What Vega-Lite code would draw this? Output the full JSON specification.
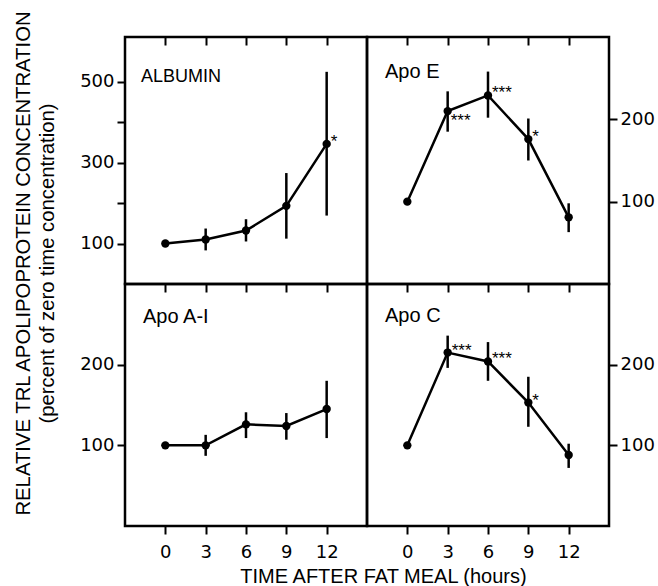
{
  "$schema": "https://vega.github.io/schema/vega-lite/v6.json",
  "padding": {"left": 12, "top": 8, "right": 3, "bottom": 0},
  "background": "white",
  "datasets": {
    "d": [
      {"panel": "ALBUMIN", "t": 0, "v": 100, "lo": 100, "hi": 100, "star": ""},
      {"panel": "ALBUMIN", "t": 3, "v": 110, "lo": 83, "hi": 137, "star": ""},
      {"panel": "ALBUMIN", "t": 6, "v": 132, "lo": 105, "hi": 160, "star": ""},
      {"panel": "ALBUMIN", "t": 9, "v": 193, "lo": 112, "hi": 274, "star": ""},
      {"panel": "ALBUMIN", "t": 12, "v": 346, "lo": 169, "hi": 524, "star": "*"},
      {"panel": "Apo E", "t": 0, "v": 100, "lo": 100, "hi": 100, "star": ""},
      {"panel": "Apo E", "t": 3, "v": 210, "lo": 185, "hi": 234, "star": "***"},
      {"panel": "Apo E", "t": 6, "v": 229, "lo": 202, "hi": 258, "star": "***"},
      {"panel": "Apo E", "t": 9, "v": 176, "lo": 150, "hi": 201, "star": "*"},
      {"panel": "Apo E", "t": 12, "v": 81, "lo": 63, "hi": 98, "star": ""},
      {"panel": "Apo A-I", "t": 0, "v": 100, "lo": 100, "hi": 100, "star": ""},
      {"panel": "Apo A-I", "t": 3, "v": 100, "lo": 87, "hi": 113, "star": ""},
      {"panel": "Apo A-I", "t": 6, "v": 126, "lo": 109, "hi": 141, "star": ""},
      {"panel": "Apo A-I", "t": 9, "v": 124, "lo": 107, "hi": 140, "star": ""},
      {"panel": "Apo A-I", "t": 12, "v": 145, "lo": 109, "hi": 180, "star": ""},
      {"panel": "Apo C", "t": 0, "v": 100, "lo": 100, "hi": 100, "star": ""},
      {"panel": "Apo C", "t": 3, "v": 215, "lo": 196, "hi": 236, "star": "***"},
      {"panel": "Apo C", "t": 6, "v": 204, "lo": 180, "hi": 228, "star": "***"},
      {"panel": "Apo C", "t": 9, "v": 153, "lo": 123, "hi": 185, "star": "*"},
      {"panel": "Apo C", "t": 12, "v": 88, "lo": 72, "hi": 102, "star": ""}
    ]
  },
  "data": {"name": "d"},
  "columns": 2,
  "spacing": 0,
  "bounds": "flush",
  "concat": [
    {
      "width": 242, "height": 247,
      "title": {"text": "ALBUMIN", "fontSize": 18, "dx": 16, "dy": 80},
      "transform": [{"filter": "datum.panel == 'ALBUMIN'"}],
      "layer": [
        {"mark": {"type": "rule", "strokeWidth": 2.5, "color": "black"},
         "encoding": {
           "x": {"field": "t", "type": "quantitative", "scale": {"domain": [-3, 15], "nice": false}, "axis": {"orient": "top", "values": [0, 3, 6, 9, 12], "labels": false, "tickSize": -8, "title": null}},
           "y": {"field": "lo", "type": "quantitative", "scale": {"domain": [0, 610], "nice": false}, "axis": {"orient": "left", "values": [100, 200, 300, 400, 500], "labelExpr": "datum.value % 200 == 100 ? datum.label : ''", "title": ["RELATIVE TRL APOLIPOPROTEIN CONCENTRATION", "(percent of zero time concentration)"], "titleY": 226, "titlePadding": 22, "titleLineHeight": 24, "titleFontSize": 20.3}},
           "y2": {"field": "hi"}}},
        {"mark": {"type": "line", "strokeWidth": 2.5, "color": "black"},
         "encoding": {"x": {"field": "t", "type": "quantitative", "axis": null}, "y": {"field": "v", "type": "quantitative", "axis": null}}},
        {"mark": {"type": "circle", "size": 70, "color": "black", "opacity": 1},
         "encoding": {"x": {"field": "t", "type": "quantitative", "axis": null}, "y": {"field": "v", "type": "quantitative", "axis": null}}},
        {"mark": {"type": "text", "align": "left", "baseline": "alphabetic", "dx": 4, "dy": 3, "fontSize": 17, "font": "Liberation Sans"},
         "encoding": {"x": {"field": "t", "type": "quantitative", "axis": null}, "y": {"field": "v", "type": "quantitative", "axis": null}, "text": {"field": "star"}}}
      ],
      "resolve": {"axis": {"x": "independent", "y": "independent"}}
    },
    {
      "width": 242, "height": 247,
      "title": {"text": "Apo E", "fontSize": 20, "dx": 18, "dy": 50},
      "transform": [{"filter": "datum.panel == 'Apo E'"}],
      "layer": [
        {"mark": {"type": "rule", "strokeWidth": 2.5, "color": "black"},
         "encoding": {
           "x": {"field": "t", "type": "quantitative", "scale": {"domain": [-3, 15], "nice": false}, "axis": {"orient": "top", "values": [0, 3, 6, 9, 12], "labels": false, "tickSize": -8, "title": null}},
           "y": {"field": "lo", "type": "quantitative", "scale": {"domain": [0, 300], "nice": false}, "axis": {"orient": "right", "values": [100, 200], "title": null}},
           "y2": {"field": "hi"}}},
        {"mark": {"type": "line", "strokeWidth": 2.5, "color": "black"},
         "encoding": {"x": {"field": "t", "type": "quantitative", "axis": null}, "y": {"field": "v", "type": "quantitative", "axis": null}}},
        {"mark": {"type": "circle", "size": 70, "color": "black", "opacity": 1},
         "encoding": {"x": {"field": "t", "type": "quantitative", "axis": null}, "y": {"field": "v", "type": "quantitative", "axis": null}}},
        {"transform": [{"filter": "datum.t != 3"}],
         "mark": {"type": "text", "align": "left", "baseline": "alphabetic", "dx": 4, "dy": 3, "fontSize": 17, "font": "Liberation Sans"},
         "encoding": {"x": {"field": "t", "type": "quantitative", "axis": null}, "y": {"field": "v", "type": "quantitative", "axis": null}, "text": {"field": "star"}}},
        {"transform": [{"filter": "datum.t == 3"}],
         "mark": {"type": "text", "align": "left", "baseline": "alphabetic", "dx": 3, "dy": 15, "fontSize": 17, "font": "Liberation Sans"},
         "encoding": {"x": {"field": "t", "type": "quantitative", "axis": null}, "y": {"field": "v", "type": "quantitative", "axis": null}, "text": {"field": "star"}}}
      ],
      "resolve": {"axis": {"x": "independent", "y": "independent"}}
    },
    {
      "width": 242, "height": 242,
      "title": {"text": "Apo A-I", "fontSize": 20, "dx": 18, "dy": 48},
      "transform": [{"filter": "datum.panel == 'Apo A-I'"}],
      "layer": [
        {"mark": {"type": "rule", "strokeWidth": 2.5, "color": "black"},
         "encoding": {
           "x": {"field": "t", "type": "quantitative", "scale": {"domain": [-3, 15], "nice": false}, "axis": {"orient": "top", "values": [0, 3, 6, 9, 12], "labels": false, "tickSize": -8, "title": null}},
           "y": {"field": "lo", "type": "quantitative", "scale": {"domain": [0, 300], "nice": false}, "axis": {"orient": "left", "values": [100, 200], "title": null}},
           "y2": {"field": "hi"}}},
        {"mark": {"type": "line", "strokeWidth": 2.5, "color": "black"},
         "encoding": {"x": {"field": "t", "type": "quantitative", "axis": {"orient": "bottom", "values": [0, 3, 6, 9, 12], "labelPadding": 9, "title": "TIME AFTER FAT MEAL (hours)", "titleX": 258, "titlePadding": 5, "titleFontSize": 20}}, "y": {"field": "v", "type": "quantitative", "axis": null}}},
        {"mark": {"type": "circle", "size": 70, "color": "black", "opacity": 1},
         "encoding": {"x": {"field": "t", "type": "quantitative", "axis": null}, "y": {"field": "v", "type": "quantitative", "axis": null}}}
      ],
      "resolve": {"axis": {"x": "independent", "y": "independent"}}
    },
    {
      "width": 242, "height": 242,
      "title": {"text": "Apo C", "fontSize": 20, "dx": 18, "dy": 47},
      "transform": [{"filter": "datum.panel == 'Apo C'"}],
      "layer": [
        {"mark": {"type": "rule", "strokeWidth": 2.5, "color": "black"},
         "encoding": {
           "x": {"field": "t", "type": "quantitative", "scale": {"domain": [-3, 15], "nice": false}, "axis": {"orient": "top", "values": [0, 3, 6, 9, 12], "labels": false, "tickSize": -8, "title": null}},
           "y": {"field": "lo", "type": "quantitative", "scale": {"domain": [0, 300], "nice": false}, "axis": {"orient": "right", "values": [100, 200], "title": null}},
           "y2": {"field": "hi"}}},
        {"mark": {"type": "line", "strokeWidth": 2.5, "color": "black"},
         "encoding": {"x": {"field": "t", "type": "quantitative", "axis": {"orient": "bottom", "values": [0, 3, 6, 9, 12], "labelPadding": 9, "title": null}}, "y": {"field": "v", "type": "quantitative", "axis": null}}},
        {"mark": {"type": "circle", "size": 70, "color": "black", "opacity": 1},
         "encoding": {"x": {"field": "t", "type": "quantitative", "axis": null}, "y": {"field": "v", "type": "quantitative", "axis": null}}},
        {"mark": {"type": "text", "align": "left", "baseline": "alphabetic", "dx": 4, "dy": 3, "fontSize": 17, "font": "Liberation Sans"},
         "encoding": {"x": {"field": "t", "type": "quantitative", "axis": null}, "y": {"field": "v", "type": "quantitative", "axis": null}, "text": {"field": "star"}}}
      ],
      "resolve": {"axis": {"x": "independent", "y": "independent"}}
    }
  ],
  "config": {
    "view": {"stroke": "black", "strokeWidth": 2.5},
    "axis": {"domain": false, "grid": false, "tickColor": "black", "tickWidth": 2, "tickSize": 8, "labelColor": "black", "titleColor": "black", "labelFont": "DejaVu Sans", "titleFont": "Liberation Sans", "labelFontSize": 18, "titleFontSize": 19, "titleFontWeight": "normal", "labelPadding": 3},
    "title": {"anchor": "start", "orient": "top", "frame": "group", "offset": 0, "baseline": "alphabetic", "font": "Liberation Sans", "fontWeight": "normal", "color": "black"}
  }
}
